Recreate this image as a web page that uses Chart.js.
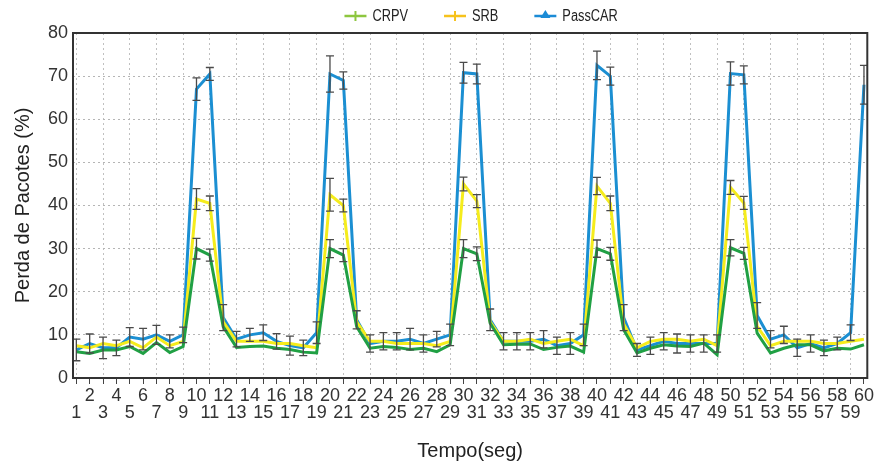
<!DOCTYPE html>
<html>
<head>
<meta charset="utf-8">
<script src="https://cdn.jsdelivr.net/npm/chart.js@4/dist/chart.umd.min.js"></script>
<style>
html,body{margin:0;padding:0;background:#fff;}
#wrap{width:877px;height:466px;}
</style>
</head>
<body>
<div id="wrap"><canvas id="c" width="877" height="466"></canvas></div>
<script>
// ---- data ----
const tempo = [1,2,3,4,5,6,7,8,9,10,11,12,13,14,15,16,17,18,19,20,
  21,22,23,24,25,26,27,28,29,30,31,32,33,34,35,36,37,38,39,40,
  41,42,43,44,45,46,47,48,49,50,51,52,53,54,55,56,57,58,59,60];
const tickLabels = tempo.map(String);
const seriesNames = ['CRPV', 'SRB', 'PassCAR'];

const crpv = [6.1,5.7,6.5,6.5,7.3,5.7,8.2,5.9,7.3,30.0,28.5,11.9,7.1,7.3,7.4,6.9,6.6,6.0,5.8,30.0,
  28.5,11.9,6.9,7.3,7.1,6.6,6.9,6.1,7.7,30.0,28.8,12.7,7.7,7.8,7.9,6.6,7.1,7.4,6.0,30.0,
  28.8,11.2,5.8,6.9,7.7,7.4,7.3,8.1,5.4,30.2,28.9,10.4,5.8,6.9,7.7,7.7,6.3,6.9,6.7,7.7];
const srb = [7.5,7.0,8.0,7.5,8.5,7.0,9.5,7.5,8.5,41.5,40.5,13.0,8.5,8.5,8.5,8.0,8.0,7.5,7.0,42.5,
  40.0,13.0,8.5,8.5,8.0,8.0,8.0,7.5,8.5,45.0,41.0,13.0,8.5,8.5,9.0,8.0,8.5,9.0,7.5,44.5,
  40.5,12.5,7.0,8.5,9.0,9.0,8.5,9.0,7.5,44.2,40.6,12.0,7.5,8.5,8.5,8.5,8.0,8.0,8.5,9.0];
const passcar = [6.5,8.0,7.0,7.0,9.5,9.0,10.0,8.5,10.0,67.0,70.5,14.0,9.0,10.0,10.5,8.5,7.5,7.0,10.5,70.5,
  69.0,13.5,8.0,8.5,8.5,9.0,8.0,9.0,10.0,70.8,70.5,13.5,8.5,8.5,8.5,9.0,7.5,8.0,10.0,72.5,
  70.0,14.0,6.5,7.5,8.5,8.0,8.0,8.0,8.0,70.6,70.3,14.5,9.0,10.0,7.0,8.0,7.0,8.0,10.5,68.0];

// error-bar half lengths (null = no bar)
const crpvErr = [null,null,null,null,null,null,null,null,null,2.4,1.4,null,null,null,null,null,null,null,null,2.1,
  1.5,null,null,null,null,null,null,null,null,2.1,1.6,null,null,null,null,null,null,null,null,2.0,
  1.5,null,null,null,null,null,null,null,null,1.9,1.4,null,null,null,null,null,null,null,null,null];
const srbErr = [null,null,null,null,null,null,null,null,null,2.4,1.7,null,null,null,null,null,null,null,null,3.8,
  1.5,null,null,null,null,null,null,null,null,1.6,1.5,null,null,null,null,null,null,null,null,2.0,
  1.7,null,null,null,null,null,null,null,null,1.6,1.5,null,null,null,null,null,null,null,null,null];
const passcarErr = [2.5,2.2,2.5,1.8,2.2,2.5,2.2,1.5,1.8,2.6,1.5,3.0,1.8,1.5,1.8,1.8,2.2,1.8,2.5,4.2,
  2.0,2.1,2.0,2.0,2.0,2.5,2.0,1.8,2.5,2.4,2.3,2.5,2.0,2.0,2.0,2.0,2.0,2.5,2.5,3.3,
  2.1,3.0,1.5,2.0,2.0,2.2,2.0,2.0,2.0,2.7,2.1,3.0,2.0,2.0,2.0,2.0,1.8,1.5,1.8,4.5];

const yTicks = [0,10,20,30,40,50,60,70,80];

// ---- styles ----
const lineColors = ['#20a044', '#f5ec1c', '#1b8fd2'];
const legendColors = ['#8dc63f', '#f6c21c', '#1b8bd6'];
const legendMarkers = ['cross', 'cross', 'triangle'];
const FONT = '"Liberation Sans", Arial, Helvetica, sans-serif';

const toXY = vals => tempo.map((t, i) => ({x: t, y: vals[i]}));

const errorBars = {
  id: 'errorBars',
  afterDatasetsDraw(chart) {
    const {ctx, scales: {x, y}} = chart;
    ctx.save();
    ctx.strokeStyle = '#4a4a4a';
    ctx.lineWidth = 1.3;
    chart.data.datasets.forEach(ds => {
      const errs = ds.errors;
      if (!errs) return;
      ds.data.forEach((p, i) => {
        const e = errs[i];
        if (e == null) return;
        const px = x.getPixelForValue(p.x);
        const yt = y.getPixelForValue(p.y + e);
        const yb = y.getPixelForValue(p.y - e);
        ctx.beginPath();
        ctx.moveTo(px, yt); ctx.lineTo(px, yb);
        ctx.moveTo(px - 4, yt); ctx.lineTo(px + 4, yt);
        ctx.moveTo(px - 4, yb); ctx.lineTo(px + 4, yb);
        ctx.stroke();
      });
    });
    ctx.restore();
  }
};

const frame = {
  id: 'frame',
  afterDraw(chart) {
    const {ctx, chartArea: a} = chart;
    ctx.save();
    ctx.strokeStyle = '#333';
    ctx.lineWidth = 2;
    ctx.strokeRect(a.left, a.top, a.right - a.left, a.bottom - a.top);
    ctx.restore();
  }
};

const customLegend = {
  id: 'customLegend',
  afterDraw(chart) {
    const ctx = chart.ctx;
    const a = chart.chartArea;
    ctx.save();
    ctx.font = '16px "Liberation Sans", Arial, sans-serif';
    ctx.textBaseline = 'middle';
    const squeeze = 0.8;
    const lineW = 22, gap = 6, spacing = 36;
    const items = chart.data.datasets.map((ds, i) => ({
      text: ds.label, color: legendColors[i], marker: legendMarkers[i],
      tw: ctx.measureText(ds.label).width * squeeze
    }));
    items.forEach(it => { it.w = lineW + gap + it.tw; });
    const total = items.reduce((s, it) => s + it.w, 0) + spacing * (items.length - 1);
    let xPos = (a.left + a.right) / 2 + 11 - total / 2;
    const yPos = 16;
    items.forEach(it => {
      ctx.strokeStyle = it.color;
      ctx.fillStyle = it.color;
      ctx.lineWidth = 2.5;
      ctx.beginPath();
      ctx.moveTo(xPos, yPos); ctx.lineTo(xPos + lineW, yPos);
      ctx.stroke();
      const cx = xPos + lineW / 2;
      if (it.marker === 'cross') {
        ctx.lineWidth = 2;
        ctx.beginPath();
        ctx.moveTo(cx, yPos - 5); ctx.lineTo(cx, yPos + 5);
        ctx.stroke();
      } else {
        ctx.beginPath();
        ctx.moveTo(cx, yPos - 6); ctx.lineTo(cx + 5, yPos + 2); ctx.lineTo(cx - 5, yPos + 2);
        ctx.closePath();
        ctx.fill();
      }
      ctx.fillStyle = '#222';
      ctx.save();
      ctx.translate(xPos + lineW + gap, yPos + 1);
      ctx.scale(squeeze, 1);
      ctx.fillText(it.text, 0, 0);
      ctx.restore();
      xPos += it.w + spacing;
    });
    ctx.restore();
  }
};

new Chart(document.getElementById('c'), {
  type: 'line',
  data: {
    datasets: [
      {label: seriesNames[0], data: toXY(crpv), errors: crpvErr, borderColor: lineColors[0]},
      {label: seriesNames[1], data: toXY(srb), errors: srbErr, borderColor: lineColors[1]},
      {label: seriesNames[2], data: toXY(passcar), errors: passcarErr, borderColor: lineColors[2]}
    ].map(d => Object.assign(d, {borderWidth: 3, pointRadius: 0, tension: 0, fill: false}))
  },
  options: {
    responsive: false,
    animation: false,
    layout: {padding: {left: 8, right: 7, top: 33, bottom: 0}},
    plugins: {legend: {display: false}, tooltip: {enabled: false}},
    scales: {
      x: {
        type: 'linear',
        min: 0.75, max: 60.25,
        afterBuildTicks: s => { s.ticks = tempo.map(v => ({value: v})); },
        afterFit: s => { s.height = 88; },
        border: {display: false, dash: [2, 3]},
        grid: {
          color: c => (c.tick && c.tick.value % 2 === 1) ? '#c0c0c0' : 'rgba(0,0,0,0)',
          lineWidth: 1,
          tickColor: '#444',
          tickLength: 6,
          tickWidth: 1,
          tickBorderDash: []
        },
        ticks: {
          autoSkip: false, maxRotation: 0, minRotation: 0,
          padding: 3,
          color: '#333',
          font: {family: FONT, size: 18, lineHeight: 0.95},
          callback: (v, i) => (i % 2 === 0) ? ['', tickLabels[i]] : [tickLabels[i], '']
        },
        title: {display: true, text: 'Tempo(seg)', color: '#222',
          font: {family: FONT, size: 20}, padding: {top: 0, bottom: 3}}
      },
      y: {
        min: 0, max: 80,
        afterBuildTicks: s => { s.ticks = yTicks.map(v => ({value: v})); },
        afterFit: s => { s.width = 65; },
        border: {display: false, dash: [2, 3]},
        grid: {color: '#b5b5b5', drawTicks: false},
        ticks: {padding: 5, color: '#333', font: {family: FONT, size: 18}},
        title: {display: true, text: 'Perda de Pacotes (%)', color: '#222',
          font: {family: FONT, size: 20}, padding: {top: 3, bottom: 0}}
      }
    }
  },
  plugins: [errorBars, frame, customLegend]
});
</script>
</body>
</html>
